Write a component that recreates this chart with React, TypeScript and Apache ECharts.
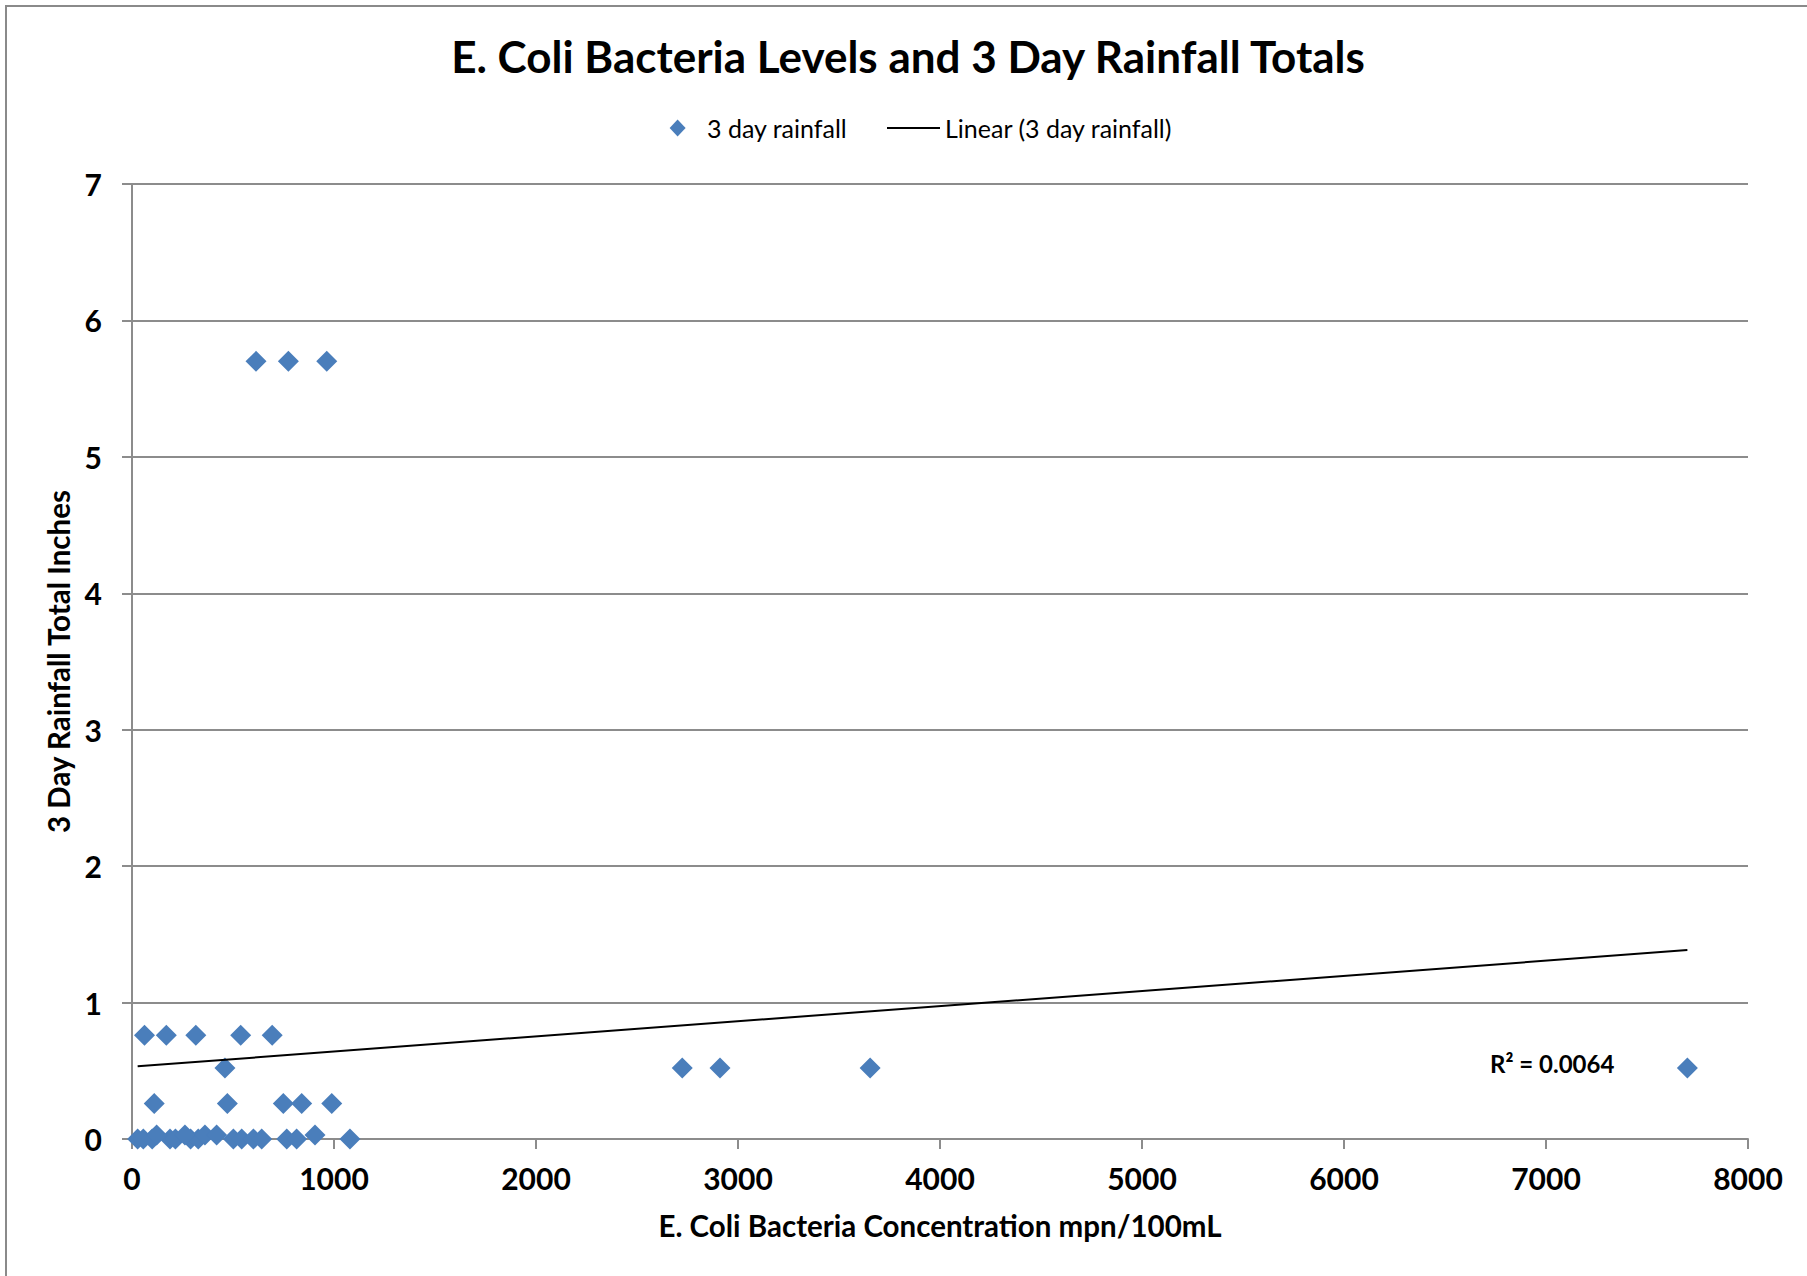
import React, { useEffect, useRef } from "react";
import * as echarts from "echarts";

// E. coli concentration (mpn/100mL) and the matching 3 day rainfall (inches)
const ecoliValues: number[] = [
  28, 56, 100, 188, 215, 290, 328, 502, 543, 601, 642, 766, 815, 1079,
  122, 262, 361, 419, 906,
  110, 472, 749, 840, 989,
  460, 2724, 2911, 3654, 7700,
  62, 170, 316, 538, 694,
  614, 774, 964,
];
const rainfallValues: number[] = [
  0, 0, 0, 0, 0, 0, 0, 0, 0, 0, 0, 0, 0, 0,
  0.03, 0.03, 0.03, 0.03, 0.03,
  0.26, 0.26, 0.26, 0.26, 0.26,
  0.52, 0.52, 0.52, 0.52, 0.52,
  0.76, 0.76, 0.76, 0.76, 0.76,
  5.7, 5.7, 5.7,
];

// Linear trendline fitted in the spreadsheet
const trendIntercept = 0.53;
const trendSlope = 0.000111;
const rSquared = "0.0064";

const seriesNames = ["3 day rainfall", "Linear (3 day rainfall)"];

const xTicks = { min: 0, max: 8000, interval: 1000 };
const yTicks = { min: 0, max: 7, interval: 1 };

const FONT = "Lato";
const GRID_COLOR = "#8c8c8c";
const MARK_COLOR = "#4a7ebb";

export default function App() {
  const ref = useRef<HTMLDivElement>(null);

  useEffect(() => {
    if (!ref.current) return;
    const chart = echarts.init(ref.current, null, { renderer: "svg" });

    const points = ecoliValues.map((x, i) => [x, rainfallValues[i]]);
    const minX = Math.min(...ecoliValues);
    const maxX = Math.max(...ecoliValues);
    const trend = [
      [minX, trendIntercept + trendSlope * minX],
      [maxX, trendIntercept + trendSlope * maxX],
    ];

    const legendY = 128;
    const legendFont = `25px ${FONT}`;

    chart.setOption({
      animation: false,
      backgroundColor: "#ffffff",
      grid: { left: 132, right: 59, top: 184, bottom: 137 },
      xAxis: {
        type: "value",
        min: xTicks.min,
        max: xTicks.max,
        interval: xTicks.interval,
        name: "E. Coli Bacteria Concentration mpn/100mL",
        nameLocation: "middle",
        nameGap: 71,
        nameTextStyle: { fontFamily: FONT, fontSize: 29.5, fontWeight: "bold", color: "#000" },
        axisLine: { show: true, lineStyle: { color: GRID_COLOR, width: 2 } },
        axisTick: { show: true, length: 10, lineStyle: { color: GRID_COLOR, width: 2 } },
        axisLabel: {
          margin: 24,
          fontFamily: FONT,
          fontSize: 30,
          fontWeight: "bold",
          color: "#000",
          formatter: (v: number) => String(v),
        },
        splitLine: { show: false },
      },
      yAxis: {
        type: "value",
        min: yTicks.min,
        max: yTicks.max,
        interval: yTicks.interval,
        name: "3 Day Rainfall Total Inches",
        nameLocation: "middle",
        nameRotate: 90,
        nameGap: 58,
        nameTextStyle: { fontFamily: FONT, fontSize: 29.5, fontWeight: "bold", color: "#000" },
        axisLine: { show: true, lineStyle: { color: GRID_COLOR, width: 2 } },
        axisTick: { show: true, length: 10, lineStyle: { color: GRID_COLOR, width: 2 } },
        axisLabel: {
          margin: 30,
          fontFamily: FONT,
          fontSize: 30,
          fontWeight: "bold",
          color: "#000",
          formatter: (v: number) => String(v),
        },
        splitLine: { show: true, lineStyle: { color: GRID_COLOR, width: 2 } },
      },
      series: [
        {
          name: seriesNames[0],
          type: "scatter",
          symbol: "diamond",
          symbolSize: 21,
          itemStyle: { color: MARK_COLOR, opacity: 1 },
          data: points,
          z: 2,
        },
        {
          name: seriesNames[1],
          type: "line",
          symbol: "none",
          lineStyle: { color: "#000", width: 2 },
          data: trend,
          z: 3,
        },
      ],
      graphic: [
        {
          type: "rect",
          shape: { x: 6, y: 6, width: 1850, height: 1320 },
          style: { fill: "none", stroke: "#8a8a8a", lineWidth: 2 },
          silent: true,
        },
        {
          type: "text",
          x: 908,
          y: 56,
          style: {
            text: "E. Coli Bacteria Levels and 3 Day Rainfall Totals",
            align: "center",
            verticalAlign: "middle",
            font: `bold 44px ${FONT}`,
            fill: "#000",
          },
        },
        // legend: diamond marker and series name
        {
          type: "polygon",
          shape: {
            points: [
              [677.6, legendY - 8.5],
              [685.6, legendY],
              [677.6, legendY + 8.5],
              [669.6, legendY],
            ],
          },
          style: { fill: MARK_COLOR },
        },
        {
          type: "text",
          x: 707,
          y: legendY,
          style: {
            text: seriesNames[0],
            align: "left",
            verticalAlign: "middle",
            font: legendFont,
            fill: "#000",
          },
        },
        // legend: trendline sample and its name
        {
          type: "line",
          shape: { x1: 887, y1: legendY, x2: 940, y2: legendY },
          style: { stroke: "#000", lineWidth: 2 },
        },
        {
          type: "text",
          x: 945,
          y: legendY,
          style: {
            text: seriesNames[1],
            align: "left",
            verticalAlign: "middle",
            font: legendFont,
            fill: "#000",
          },
        },
        {
          type: "text",
          x: 1490,
          y: 1063,
          style: {
            text: `R² = ${rSquared}`,
            align: "left",
            verticalAlign: "middle",
            font: `bold 24px ${FONT}`,
            fill: "#000",
          },
        },
      ],
    });

    return () => chart.dispose();
  }, []);

  return (
    <div
      ref={ref}
      style={{ position: "absolute", left: 0, top: 0, width: 1807, height: 1276 }}
    />
  );
}
